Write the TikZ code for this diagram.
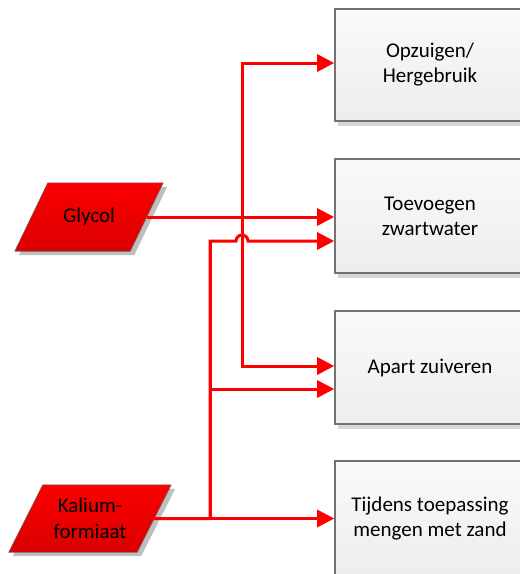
\documentclass[tikz,border=0pt]{standalone}
\usepackage{fontspec}
\setmainfont{Carlito}
\usetikzlibrary{arrows.meta,backgrounds}
\definecolor{flowred}{RGB}{255,0,0}
\definecolor{boxline}{RGB}{115,115,115}
\definecolor{boxshadow}{RGB}{215,215,215}
\definecolor{boxtop}{RGB}{250,250,250}
\definecolor{boxbot}{RGB}{237,237,237}
\definecolor{parashadow}{RGB}{190,190,190}
\definecolor{paraline}{RGB}{120,90,90}
\definecolor{redtop}{RGB}{252,0,0}
\definecolor{redbot}{RGB}{218,0,0}
\begin{document}
\begin{tikzpicture}[x=1pt,y=-1pt,
  flow/.style={draw=flowred, line width=3pt, -{Triangle[length=17pt,width=17pt]}},
  procbox/.style={rectangle, draw=boxline, line width=1.6pt, top color=boxtop, bottom color=boxbot,
    minimum width=190pt, align=center, inner sep=0pt, font=\fontsize{21}{25}\selectfont},
  paratext/.style={rectangle, align=center, inner sep=0pt, font=\fontsize{21}{26}\selectfont},
  parafill/.style={draw=paraline, line width=0.6pt, top color=redtop, bottom color=redbot}]
\useasboundingbox (0,0) rectangle (520,574);

% boxes
\node[procbox, minimum height=112pt] (b1) at (430,65) {Opzuigen/\\Hergebruik};
\node[procbox, minimum height=114pt] (b2) at (430,216) {Toevoegen\\zwartwater};
\node[procbox, minimum height=113pt] (b3) at (430,367.5) {Apart zuiveren};
\node[procbox, minimum height=116pt] (b4) at (430,519) {Tijdens toepassing\\mengen met zand};

% input parallelograms (text nodes sized to the body)
\node[paratext, minimum width=115pt, minimum height=68pt] (gly) at (89,217) {Glycol};
\node[paratext, minimum width=128pt, minimum height=67pt] (kal) at (90,518.5) {Kalium-\\formiaat};

\begin{scope}[on background layer]
  \foreach \b in {b1,b2,b3,b4}
    \fill[boxshadow] ([shift={(4,4)}]\b.south west) rectangle ([shift={(4,4)}]\b.north east);
  \fill[parashadow] ([shift={(20.5,4)}]gly.north west) -- ([shift={(20.5,4)}]gly.north east)
    -- ([shift={(-12.5,4)}]gly.south east) -- ([shift={(-12.5,4)}]gly.south west) -- cycle;
  \path[parafill] ([xshift=16.5pt]gly.north west) -- ([xshift=16.5pt]gly.north east)
    -- ([xshift=-16.5pt]gly.south east) -- ([xshift=-16.5pt]gly.south west) -- cycle;
  \fill[parashadow] ([shift={(21,4)}]kal.north west) -- ([shift={(21,4)}]kal.north east)
    -- ([shift={(-13,4)}]kal.south east) -- ([shift={(-13,4)}]kal.south west) -- cycle;
  \path[parafill] ([xshift=17pt]kal.north west) -- ([xshift=17pt]kal.north east)
    -- ([xshift=-17pt]kal.south east) -- ([xshift=-17pt]kal.south west) -- cycle;
\end{scope}

% Glycol connectors
\draw[flow] (gly.east) -- (gly.east -| b2.west);
\draw[flow] (gly.east) -- ++(95.5,0) |- ([yshift=2pt]b1.west);
\draw[flow] (gly.east) -- ++(95.5,0) |- ([yshift=1.5pt]b3.west);

% Kaliumformiaat connectors
\coordinate (kj) at (210,241);
\draw[flow] (kal.east) -- (kal.east -| b4.west);
\draw[flow] (kal.east) -| (kj) -- (236,241) arc[start angle=180, end angle=0, radius=6pt]
  -- ([yshift=-25pt]b2.west);
\draw[flow] (kal.east) -| (kj) |- ([yshift=-21.5pt]b3.west);
\end{tikzpicture}
\end{document}
